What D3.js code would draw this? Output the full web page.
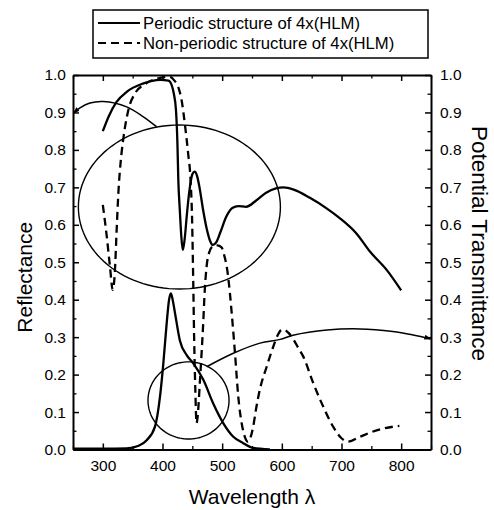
<!DOCTYPE html>
<html><head><meta charset="utf-8">
<script src="https://cdn.jsdelivr.net/npm/d3@7"></script>
<style>body{margin:0;background:#fff}svg{display:block}</style>
</head><body>
<svg id="c" width="494" height="510"></svg>
<script>
// ---------- data ----------
const wavelengthTicks = [300, 400, 500, 600, 700, 800];
const wavelengthMinor = [250, 350, 450, 550, 650, 750, 850];
const valueTicks = [0, 0.1, 0.2, 0.3, 0.4, 0.5, 0.6, 0.7, 0.8, 0.9, 1.0];
const valueMinor = [0.05, 0.15, 0.25, 0.35, 0.45, 0.55, 0.65, 0.75, 0.85, 0.95];
const seriesNames = ["Periodic structure of 4x(HLM)", "Non-periodic structure of 4x(HLM)"];

const periodicReflectance = [
  [300,0.85],[310,0.89],[323,0.928],[340,0.955],[367,0.977],[396,0.987],[410,0.985],
  [416,0.97],[419,0.95],[422.6,0.906],[425,0.818],[426.5,0.72],[429,0.64],[431.5,0.57],
  [434,0.533],[437,0.56],[441,0.63],[445,0.69],[450,0.735],[454,0.742],[458,0.73],
  [462,0.70],[468,0.64],[474,0.59],[480,0.556],[484,0.546],[490,0.553],[497,0.58],
  [507,0.622],[517,0.645],[527,0.65],[540,0.648],[557,0.665],[573,0.685],[590,0.697],
  [603,0.70],[620,0.694],[647,0.672],[675,0.644],[697,0.618],[725,0.577],[748,0.528],
  [776,0.479],[800,0.425]
];
const nonPeriodicReflectance = [
  [300,0.653],[306,0.577],[312,0.488],[316.5,0.426],[320,0.47],[323,0.58],[326,0.684],
  [330,0.77],[334,0.826],[342.7,0.906],[354,0.951],[370,0.975],[390,0.99],[412,0.995],
  [420,0.985],[427,0.965],[432,0.933],[438,0.862],[443,0.79],[447,0.72],[449.5,0.62],
  [451.5,0.45],[453,0.3],[455,0.16],[457,0.07],[459,0.09],[463,0.19],[468,0.33],
  [471,0.43],[474,0.49],[478,0.525],[484,0.542],[492,0.545],[499,0.54],[504,0.515],
  [508,0.485],[513,0.417],[516,0.364],[521.5,0.257],[527,0.141],[532.7,0.07],[538,0.034],
  [543,0.021],[547,0.03],[552,0.061],[557,0.11],[563,0.159],[574.6,0.221],[585.7,0.275],
  [593,0.305],[600,0.32],[606,0.318],[612,0.31],[619,0.295],[628,0.27],[636,0.248],
  [652.7,0.177],[669.5,0.114],[686,0.061],[700,0.03],[711,0.021],[731,0.034],[753,0.048],
  [773,0.057],[797,0.063]
];
const periodicTransmittance = [
  [250,0.002],[300,0.002],[340,0.003],[360,0.01],[373.5,0.025],[387.4,0.061],[395.8,0.141],
  [401.4,0.23],[407,0.337],[411,0.40],[414,0.417],[417,0.40],[421,0.364],[429,0.292],
  [440.5,0.252],[451.6,0.23],[468.4,0.186],[485,0.123],[502,0.07],[518.7,0.034],
  [535.4,0.017],[552,0.004],[580,0.0]
];
// annotations (data units)
const reflectanceEllipse = [428.3, 0.6475, 169.3, 0.219];   // centre λ, centre value, radius λ, radius value
const transmittanceCircle = [443.6, 0.131, 67.9, 0.103];
const reflectanceArrow = [[250.5,0.898],[261.7,0.912],[278.5,0.925],[300.8,0.929],[340,0.915],[367.3,0.889],[390,0.862]];
const transmittanceArrow = [[474,0.221],[518.7,0.257],[563.4,0.284],[597,0.294],[618.7,0.305],[675.7,0.319],[731,0.322],[786,0.315],[819.8,0.306],[843,0.298],[849.5,0.295]];

// ---------- drawing ----------
const FONT = "'Liberation Sans', Arial, Helvetica, sans-serif";
const svg = d3.select("#c");
const x = d3.scaleLinear().domain([250, 850]).range([73, 431]);
const y = d3.scaleLinear().domain([0, 1]).range([449.5, 75]);
const fmt = d3.format(".1f");

function style(g, fs) {
  g.selectAll("path,line").attr("stroke", "#000");
  g.select(".domain").attr("stroke-width", 2);
  g.selectAll(".tick line").attr("stroke-width", 1.5);
  g.selectAll("text").attr("font-family", FONT).attr("font-size", fs).attr("fill", "#000");
}
function minor(g) { g.select(".domain").remove(); g.selectAll(".tick line").attr("stroke", "#000").attr("stroke-width", 1.3); }

// major axes
svg.append("g").attr("transform", `translate(0,${y(0)})`)
  .call(d3.axisBottom(x).tickValues(wavelengthTicks).tickSize(-6).tickSizeOuter(0).tickPadding(10))
  .call(g => style(g, 15.5));
svg.append("g").attr("transform", `translate(0,${y(1)})`)
  .call(d3.axisTop(x).tickValues(wavelengthTicks).tickSize(-6).tickSizeOuter(0).tickFormat(""))
  .call(g => style(g, 15.5));
svg.append("g").attr("transform", `translate(${x(250)},0)`)
  .call(d3.axisLeft(y).tickValues(valueTicks).tickSize(-6).tickSizeOuter(0).tickPadding(7).tickFormat(fmt))
  .call(g => style(g, 15.5));
svg.append("g").attr("transform", `translate(${x(850)},0)`)
  .call(d3.axisRight(y).tickValues(valueTicks).tickSize(-6).tickSizeOuter(0).tickPadding(9).tickFormat(fmt))
  .call(g => style(g, 15.5));
// minor ticks
svg.append("g").attr("transform", `translate(0,${y(0)})`).call(d3.axisBottom(x).tickValues(wavelengthMinor).tickSize(-3.5).tickFormat("")).call(minor);
svg.append("g").attr("transform", `translate(0,${y(1)})`).call(d3.axisTop(x).tickValues(wavelengthMinor).tickSize(-3.5).tickFormat("")).call(minor);
svg.append("g").attr("transform", `translate(${x(250)},0)`).call(d3.axisLeft(y).tickValues(valueMinor).tickSize(-3.5).tickFormat("")).call(minor);
svg.append("g").attr("transform", `translate(${x(850)},0)`).call(d3.axisRight(y).tickValues(valueMinor).tickSize(-3.5).tickFormat("")).call(minor);

// arrow marker
const defs = svg.append("defs");
defs.append("marker").attr("id", "arr").attr("viewBox", "0 0 10 10").attr("refX", 9).attr("refY", 5)
  .attr("markerWidth", 7).attr("markerHeight", 7).attr("markerUnits", "userSpaceOnUse").attr("orient", "auto-start-reverse")
  .append("path").attr("d", "M0,1.5 L10,5 L0,8.5 Z").attr("fill", "#000");

const line = d3.line().x(d => x(d[0])).y(d => y(d[1])).curve(d3.curveMonotoneX);
const smooth = d3.line().x(d => x(d[0])).y(d => y(d[1])).curve(d3.curveCatmullRom.alpha(0.5));

// ellipses
function ellipsePts(e) {
  return d3.range(0, 361, 3).map(a => [e[0] + e[2] * Math.cos(a * Math.PI / 180), e[1] + e[3] * Math.sin(a * Math.PI / 180)]);
}
const closed = d3.line().x(d => x(d[0])).y(d => y(d[1])).curve(d3.curveLinearClosed);
svg.append("path").attr("d", closed(ellipsePts(reflectanceEllipse))).attr("fill", "none").attr("stroke", "#000").attr("stroke-width", 1.4);
svg.append("path").attr("d", closed(ellipsePts(transmittanceCircle))).attr("fill", "none").attr("stroke", "#000").attr("stroke-width", 1.4);
svg.append("path").attr("d", smooth(reflectanceArrow)).attr("fill", "none").attr("stroke", "#000").attr("stroke-width", 1.5).attr("marker-start", "url(#arr)");
svg.append("path").attr("d", smooth(transmittanceArrow)).attr("fill", "none").attr("stroke", "#000").attr("stroke-width", 1.5).attr("marker-end", "url(#arr)");

// data curves
svg.append("path").attr("d", line(periodicReflectance)).attr("fill", "none").attr("stroke", "#000").attr("stroke-width", 2.3).attr("stroke-linejoin", "round");
svg.append("path").attr("d", line(periodicTransmittance)).attr("fill", "none").attr("stroke", "#000").attr("stroke-width", 2.3).attr("stroke-linejoin", "round");
svg.append("path").attr("d", line(nonPeriodicReflectance)).attr("fill", "none").attr("stroke", "#000").attr("stroke-width", 2.3).attr("stroke-dasharray", "8,5");

// axis titles
svg.append("text").attr("x", (x(250) + x(850)) / 2).attr("y", 504).attr("text-anchor", "middle")
  .attr("font-family", FONT).attr("font-size", 21).text("Wavelength λ");
svg.append("text").attr("transform", `translate(32,${y(0.46)}) rotate(-90)`).attr("text-anchor", "middle")
  .attr("font-family", FONT).attr("font-size", 21).text("Reflectance");
svg.append("text").attr("transform", `translate(472,${y(0.55)}) rotate(90)`).attr("text-anchor", "middle")
  .attr("font-family", FONT).attr("font-size", 22.5).text("Potential Transmittance");

// legend
const lg = svg.append("g");
lg.append("rect").attr("x", 93).attr("y", 10).attr("width", 335).attr("height", 48).attr("fill", "#fff").attr("stroke", "#000").attr("stroke-width", 1.5);
const dashes = ["none", "8,5"];
seriesNames.forEach((n, i) => {
  const yy = 23 + i * 20;
  lg.append("line").attr("x1", 98).attr("x2", 140).attr("y1", yy).attr("y2", yy).attr("stroke", "#000").attr("stroke-width", 2).attr("stroke-dasharray", dashes[i]);
  lg.append("text").attr("x", 143).attr("y", yy).attr("dy", "0.36em").attr("font-family", FONT).attr("font-size", 16.7).text(n);
});
</script>
</body></html>
